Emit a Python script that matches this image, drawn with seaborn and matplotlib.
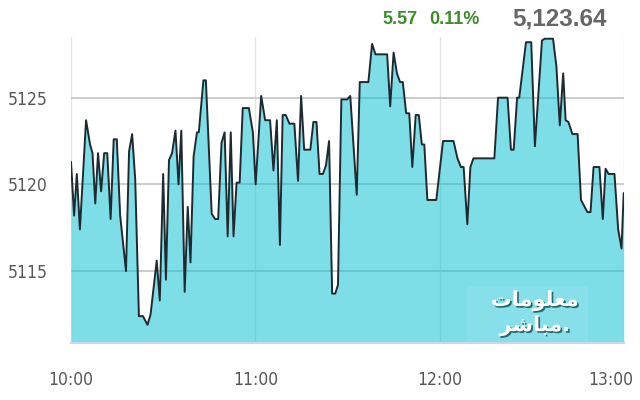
import matplotlib
matplotlib.use("Agg")
import matplotlib.pyplot as plt
import matplotlib.patheffects as pe
import matplotlib.transforms as mtransforms
from matplotlib import font_manager
import seaborn as sns
import pandas as pd

# minutes after 10:00 and index level
minutes = [0, 1.0, 1.9, 2.9, 4.9, 6.2, 7.0, 7.9, 8.8, 9.8, 10.8, 11.8, 12.9, 13.9, 14.9,
           16.0, 17.9, 18.9, 19.9, 20.9, 22.1, 23.4, 24.9, 25.9, 27.9, 28.9, 30.0, 30.9,
           31.9, 32.9, 34.0, 35.0, 35.9, 37.0, 38.0, 38.9, 39.9, 41.0, 41.6, 43.1, 43.9,
           45.8, 46.9, 47.9, 49.0, 50.0, 51.0, 52.0, 52.9, 53.9, 54.9, 55.9, 57.9, 59.2,
           60.1, 61.9, 63.2, 64.8, 65.9, 67.0, 68.0, 68.9, 69.9, 71.1, 72.7, 73.9, 74.9,
           75.9, 77.9, 78.9, 79.9, 80.9, 82.0, 83.0, 84.0, 85.0, 86.0, 86.9, 88.0, 89.9,
           90.9, 91.9, 93.0, 94.0, 96.8, 98.0, 99.1, 102.9, 103.9, 105.0, 106.1, 107.1,
           108.0, 109.1, 110.1, 111.1, 112.2, 113.2, 114.2, 115.0, 116.0, 118.9, 121.1,
           124.5, 125.8, 126.9, 127.8, 129.0, 130.0, 131.0, 137.8, 139.0, 142.1, 143.2,
           144.1, 145.2, 145.9, 148.1, 149.8, 151.0, 153.3, 154.2, 156.9, 158.0, 159.1,
           160.2, 161.0, 161.9, 163.2, 164.9, 166.0, 168.1, 169.1, 170.1, 172.0, 173.1,
           174.0, 175.0, 176.9, 178.1, 179.2, 179.9]
index_values = [5121.3, 5118.2, 5120.6, 5117.4, 5123.7, 5122.3, 5121.8, 5118.9, 5121.8,
                5119.6, 5121.8, 5121.8, 5118.0, 5122.6, 5122.6, 5118.2, 5115.0, 5121.9,
                5122.9, 5120.3, 5112.4, 5112.4, 5111.9, 5112.5, 5115.6, 5113.3, 5120.6,
                5114.5, 5121.4, 5121.8, 5123.1, 5120.0, 5123.1, 5113.8, 5118.7, 5115.5,
                5121.6, 5123.0, 5123.0, 5126.0, 5126.0, 5118.3, 5118.0, 5118.0, 5122.4,
                5123.0, 5117.0, 5123.0, 5117.0, 5120.1, 5120.1, 5124.4, 5124.4, 5123.0,
                5120.0, 5125.1, 5123.7, 5123.7, 5120.8, 5123.7, 5116.5, 5124.0, 5124.0,
                5123.5, 5123.5, 5120.2, 5125.1, 5122.0, 5122.0, 5123.6, 5123.6, 5120.6,
                5120.6, 5121.1, 5122.5, 5113.7, 5113.7, 5114.2, 5124.9, 5124.9, 5125.1,
                5122.4, 5119.4, 5125.9, 5125.9, 5128.1, 5127.5, 5127.5, 5124.5, 5127.6,
                5126.4, 5125.9, 5125.9, 5124.1, 5124.1, 5121.0, 5124.0, 5124.0, 5122.3,
                5122.3, 5119.1, 5119.1, 5122.5, 5122.5, 5121.5, 5121.0, 5121.0, 5117.7,
                5121.0, 5121.5, 5121.5, 5125.0, 5125.0, 5122.0, 5122.0, 5125.0, 5125.0,
                5128.2, 5128.2, 5122.2, 5128.3, 5128.4, 5128.4, 5126.8, 5123.4, 5126.4,
                5123.7, 5123.6, 5122.9, 5122.9, 5119.1, 5118.4, 5118.4, 5121.0, 5121.0,
                5118.0, 5120.9, 5120.6, 5120.6, 5117.4, 5116.3, 5119.5]

x_ticks = [0, 60, 120, 180]
x_labels = ["10:00", "11:00", "12:00", "13:00"]
y_ticks = [5115, 5120, 5125]

last_value = "5,123.64"
change = "5.57"
change_pct = "0.11%"

df = pd.DataFrame({"minute": minutes, "value": index_values})

sns.set_style("white")
plt.rcParams["font.family"] = ["DejaVu Sans"]

# narrow face for the axis labels
tick_font = font_manager.FontProperties(family="DejaVu Sans", stretch="condensed", size=12.5)

fig = plt.figure(figsize=(6.4, 4.0), dpi=100)
ax = fig.add_axes([71 / 640, 1 - 343 / 400, (624 - 71) / 640, (343 - 37) / 400])

ymin, ymax = 5110.85, 5128.5
ax.set_xlim(0, 180)
ax.set_ylim(ymin, ymax)

# grid under a half transparent fill
for t in x_ticks:
    ax.axvline(t, color="#e3e3e3", lw=1, zorder=0)
for v in y_ticks:
    ax.axhline(v, color="#c4c4c4", lw=1.2, zorder=0)

ax.fill_between(df["minute"], df["value"], ymin, color="#09c1d3", alpha=0.52, lw=0, zorder=1)
sns.lineplot(data=df, x="minute", y="value", ax=ax, color="#1e2a30", lw=1.4,
             estimator=None, zorder=2)

ax.set_xticks(x_ticks)
ax.set_xticklabels(x_labels, fontproperties=tick_font)
ax.set_yticks(y_ticks)
ax.set_yticklabels([str(v) for v in y_ticks], fontproperties=tick_font)
ax.set_xlabel("")
ax.set_ylabel("")
ax.tick_params(axis="x", length=0, pad=20, colors="#555555")
ax.tick_params(axis="y", length=0, pad=17, colors="#555555")

# last label is pulled inside the figure
lbl = ax.get_xticklabels()[-1]
lbl.set_transform(lbl.get_transform() + mtransforms.ScaledTranslation(-13 / 100, 0, fig.dpi_scale_trans))

for side in ["top", "right", "left"]:
    ax.spines[side].set_visible(False)
ax.spines["bottom"].set_color("#ccd6eb")
ax.spines["bottom"].set_linewidth(1.5)

# header values
head = ["Liberation Sans", "DejaVu Sans"]
fig.text(400 / 640, 1 - 19 / 400, change, ha="center", va="center", fontsize=13,
         color="#3c8d2a", fontweight="bold", family=head)
fig.text(454 / 640, 1 - 19 / 400, change_pct, ha="center", va="center", fontsize=13,
         color="#3c8d2a", fontweight="bold", family=head)
fig.text(560 / 640, 1 - 19 / 400, last_value, ha="center", va="center", fontsize=17.5,
         color="#666666", fontweight="bold", family=head)

# watermark logo
ax.add_patch(plt.Rectangle((129, 5110.95), 39, 3.2, facecolor="white", alpha=0.07,
                           edgecolor="white", lw=0.4, zorder=3))
shadow = [pe.withSimplePatchShadow(offset=(1.2, -1.2), shadow_rgbFace="#1d5a62", alpha=0.9)]
ax.text(151, 5113.3, "\ufe95\ufe8e\ufee3\ufeee\ufee0\ufecc\ufee3", ha="center", va="center",
        fontsize=15, color="white", fontweight="bold", family="DejaVu Sans",
        path_effects=shadow, zorder=4)
ax.text(151, 5111.85, "\ufeae\ufeb7\ufe8e\ufe92\ufee3.", ha="center", va="center",
        fontsize=15, color="white", fontweight="bold", family="DejaVu Sans",
        path_effects=shadow, zorder=4)

fig.savefig("out.png", dpi=100)
